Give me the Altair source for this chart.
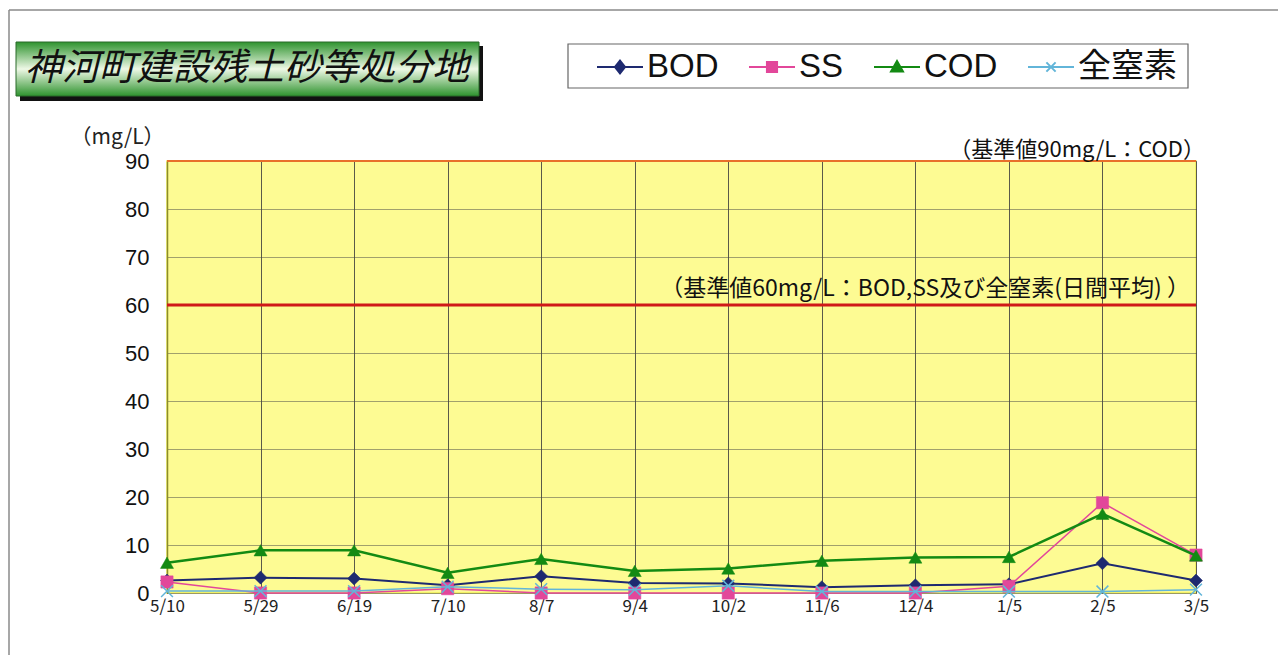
import altair as alt
import pandas as pd

# ---- data ----
dates = ["5/10", "5/29", "6/19", "7/10", "8/7", "9/4", "10/2", "11/6", "12/4", "1/5", "2/5", "3/5"]
bod = [2.6, 3.2, 3.0, 1.6, 3.5, 2.1, 2.0, 1.2, 1.6, 1.8, 6.2, 2.6]
ss = [2.3, 0.0, 0.0, 0.9, 0.0, 0.0, 0.0, 0.0, 0.0, 1.4, 18.8, 7.9]
cod = [6.3, 8.9, 8.9, 4.2, 7.1, 4.6, 5.1, 6.7, 7.4, 7.5, 16.5, 7.8]
tn = [0.4, 0.4, 0.4, 1.3, 0.8, 0.7, 1.5, 0.3, 0.3, 0.3, 0.3, 0.7]

series_names = ["BOD", "SS", "COD", "全窒素"]
series_colors = ["#1E2A70", "#E2479A", "#138A13", "#62B5D9"]
y_ticks = [0, 10, 20, 30, 40, 50, 60, 70, 80, 90]
std_values = [90, 60]
std_labels = ["（基準値90mg/L：COD）", "（基準値60mg/L：BOD,SS及び全窒素(日間平均) ）"]
title_text = "神河町建設残土砂等処分地"
y_unit = "（mg/L）"

rows = []
for name, vals in zip(series_names, [bod, ss, cod, tn]):
    for d, v in zip(dates, vals):
        rows.append({"date": d, "value": v, "series": name})
df = pd.DataFrame(rows)
std_df = pd.DataFrame({"value": std_values, "label": std_labels})
one = pd.DataFrame({"k": [0]})

W, H = 1029, 432
JP = "Noto Sans CJK JP"

x_scale = alt.Scale(type="point", domain=dates, padding=0)
y_scale = alt.Scale(domain=[0, 90], nice=False)
color_scale = alt.Scale(domain=series_names, range=series_colors)

x_axis = alt.Axis(title=None, labelAngle=0, labelFont=JP, labelFontSize=17, labelColor="#222",
                  labelPadding=5, ticks=False, domain=False, grid=True, gridColor="#5a5a4a",
                  gridWidth=1)
y_axis = alt.Axis(values=y_ticks, title=y_unit, titleAngle=0, titleAlign="left",
                  titleBaseline="middle", titleX=-97, titleY=-24, titleFont=JP,
                  titleFontSize=21, titleFontWeight="normal", titleColor="#222",
                  labelFont="Liberation Sans", labelFontSize=22, labelColor="#111",
                  labelPadding=18, ticks=False, domain=True, domainColor="#8C8C2A",
                  domainWidth=1.5, grid=True, gridColor="#444", gridDash=[1, 1], gridWidth=1)

# legend symbol paths (line + marker), unit = half the symbol width
leg_paths = {
    "BOD": "M-1,0L1,0M0,-0.28L0.22,0L0,0.28L-0.22,0Z",
    "SS": "M-1,0L1,0M-0.22,-0.22L0.22,-0.22L0.22,0.22L-0.22,0.22Z",
    "COD": "M-1,0L1,0M0,-0.26L0.26,0.2L-0.26,0.2Z",
    "全窒素": "M-1,0L1,0M-0.2,-0.2L0.2,0.2M-0.2,0.2L0.2,-0.2",
}
def ternary(mapping):
    items = list(mapping.items())
    expr = "'" + items[-1][1] + "'"
    for k, v in reversed(items[:-1]):
        expr = f"datum.value === '{k}' ? '{v}' : ({expr})"
    return expr
shape_expr = ternary(leg_paths)
color_expr = ternary(dict(zip(series_names, series_colors)))

legend = alt.Legend(orient="none", legendX=429, legendY=-118, direction="horizontal",
                    title=None, symbolSize=2116, symbolOffset=0, labelOffset=3,
                    labelFont="Liberation Sans, Noto Sans CJK JP", labelFontSize=33,
                    labelColor="#111", columnPadding=26, padding=0, symbolStrokeWidth=2,
                    symbolType=alt.ExprRef(expr=shape_expr),
                    symbolFillColor=alt.ExprRef(expr=color_expr),
                    symbolStrokeColor=alt.ExprRef(expr=color_expr))

base = alt.Chart(df)

# frame and decorations
frame_left = alt.Chart(one).mark_rule(color="#8a8a8a", strokeWidth=1.5).encode(
    x=alt.value(-158), y=alt.value(-151), y2=alt.value(H + 70))
frame_top = alt.Chart(one).mark_rule(color="#8a8a8a", strokeWidth=1.5).encode(
    x=alt.value(-158), x2=alt.value(1116), y=alt.value(-151))
frame_right = alt.Chart(one).mark_rule(color="#8a8a8a", strokeWidth=1.5).encode(
    x=alt.value(1116), y=alt.value(-151), y2=alt.value(H + 70))

title_shadow = alt.Chart(one).mark_rect(color="#111").encode(
    x=alt.value(-147), x2=alt.value(316), y=alt.value(-115), y2=alt.value(-60))
title_box = alt.Chart(one).mark_rect(
    fill=alt.LinearGradient(gradient="linear", x1=0, y1=0, x2=0, y2=1,
                            stops=[alt.GradientStop(color="#2E932E", offset=0),
                                   alt.GradientStop(color="#EEF8E6", offset=0.5),
                                   alt.GradientStop(color="#2E932E", offset=1)]),
    stroke="#2a6a2a", strokeWidth=1).encode(
    x=alt.value(-151), x2=alt.value(312), y=alt.value(-119), y2=alt.value(-65))
title_txt = alt.Chart(one).mark_text(text=title_text, font=JP, fontSize=37, fontStyle="italic",
                                     color="#111", align="center", baseline="middle").encode(
    x=alt.value(80), y=alt.value(-92))

legend_box = alt.Chart(one).mark_rect(fill="white", stroke="#666", strokeWidth=1.2).encode(
    x=alt.value(401), x2=alt.value(1021), y=alt.value(-117), y2=alt.value(-73))

std90 = alt.Chart(std_df).transform_filter(alt.datum.value == 90).mark_rule(
    color="#E8702A", strokeWidth=2).encode(x=alt.value(0), x2=alt.value(W),
                                          y=alt.Y("value:Q", scale=y_scale, axis=y_axis))
std60 = alt.Chart(std_df).transform_filter(alt.datum.value == 60).mark_rule(
    color="#D01818", strokeWidth=3).encode(x=alt.value(0), x2=alt.value(W),
                                          y=alt.Y("value:Q", scale=y_scale))
txt90 = alt.Chart(std_df).transform_filter(alt.datum.value == 90).mark_text(
    font=JP, fontSize=22, color="#111", align="right", baseline="alphabetic", dy=-4).encode(
    x=alt.value(W + 9), y=alt.Y("value:Q", scale=y_scale), text="label:N")
txt60 = alt.Chart(std_df).transform_filter(alt.datum.value == 60).mark_text(
    font=JP, fontSize=23, color="#111", align="right", baseline="alphabetic", dy=-9).encode(
    x=alt.value(W - 6), y=alt.Y("value:Q", scale=y_scale), text="label:N")

marker_shapes = {
    "BOD": ("diamond", 170, True),
    "SS": ("square", 150, True),
    "COD": ("triangle-up", 170, True),
    "全窒素": ("M-1,-1L1,1M-1,1L1,-1", 140, False),
}
line_widths = {"BOD": 2, "SS": 1.5, "COD": 2.5, "全窒素": 1.5}

series_layers = []
for i, (name, col) in enumerate(zip(series_names, series_colors)):
    sub = base.transform_filter(alt.datum.series == name)
    if i == 0:
        color_enc = alt.Color("series:N", scale=color_scale, legend=legend)
        xe = alt.X("date:N", scale=x_scale, axis=x_axis)
    else:
        color_enc = alt.Color("series:N", scale=color_scale)
        xe = alt.X("date:N", scale=x_scale)
    ln = sub.mark_line(strokeWidth=line_widths[name]).encode(
        x=xe, y=alt.Y("value:Q", scale=y_scale), color=color_enc)
    shp, sz, filled = marker_shapes[name]
    if filled:
        pt = sub.mark_point(shape=shp, size=sz, filled=True, fill=col, stroke=col,
                            strokeWidth=0.5, opacity=1).encode(
            x=alt.X("date:N", scale=x_scale), y=alt.Y("value:Q", scale=y_scale))
    else:
        pt = sub.mark_point(shape=shp, size=sz, filled=False, stroke=col,
                            strokeWidth=1.5, opacity=1).encode(
            x=alt.X("date:N", scale=x_scale), y=alt.Y("value:Q", scale=y_scale))
    series_layers += [ln, pt]

chart = alt.layer(
    frame_left, frame_top, frame_right, title_shadow, title_box, title_txt, legend_box,
    std90, std60, txt90, txt60, *series_layers
).properties(
    width=W, height=H,
    padding={"left": 159, "top": 153, "right": 82, "bottom": 62},
    autosize=alt.AutoSizeParams(type="none"),
    background="white",
).configure_view(fill="#FDFB93", stroke="#EEEE55", strokeWidth=1.5)

chart.save("out.html", embed_options={"renderer": "svg", "actions": False})
